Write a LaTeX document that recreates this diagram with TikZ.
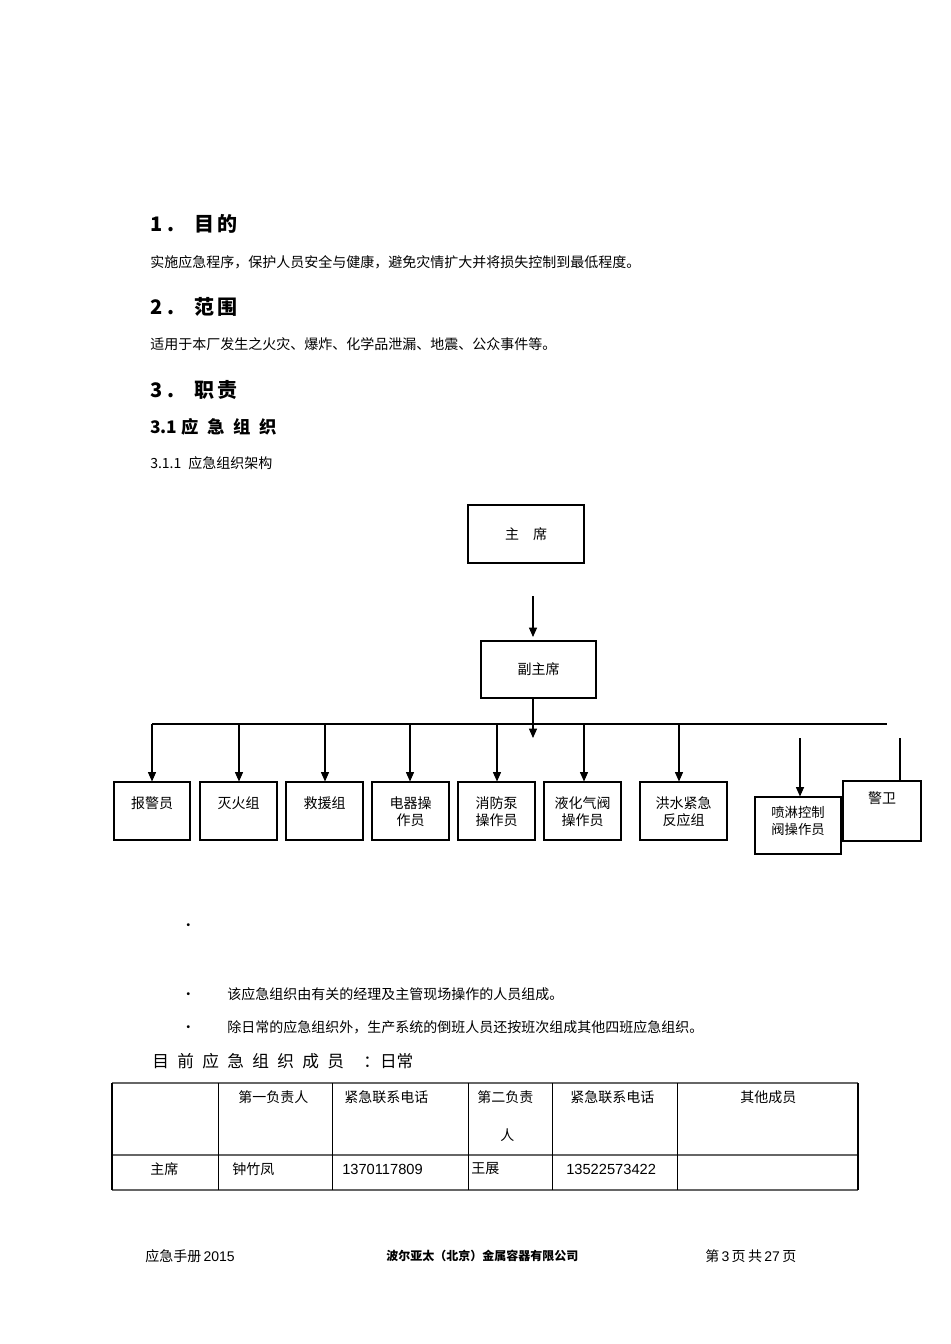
\documentclass[tikz,border=0pt]{standalone}
\usepackage{fontspec}
\setmainfont{Liberation Sans}
\newfontfamily\cjk{Noto Sans CJK SC}
\usetikzlibrary{arrows.meta}
\begin{document}
\begin{tikzpicture}[x=0.75pt,y=-0.75pt,
  box/.style={draw,line width=0.8pt,inner sep=0pt},
  lbl/.style={font=\cjk\fontsize{10.5}{13}\selectfont,align=center},
  txt/.style={anchor=west,inner sep=0pt,font=\cjk\fontsize{10.5}{13}\selectfont},
  hd/.style={anchor=west,inner sep=0pt,font=\cjk\bfseries\fontsize{15}{18}\selectfont},
  arr/.style={-{Triangle[length=7pt,width=6pt]},line width=0.8pt}]
\useasboundingbox (0,0) rectangle (950,1344);
\fill[white] (0,0) rectangle (950,1344);
% headings
\node[hd] (h1) at (150,224) {1 .\quad 目\,的};
\node[txt] (t1) at (150,262) {实施应急程序，保护人员安全与健康，避免灾情扩大并将损失控制到最低程度。};
\node[hd] (h2) at (150,307) {2 .\quad 范\,围};
\node[txt] (t2) at (150,344) {适用于本厂发生之火灾、爆炸、化学品泄漏、地震、公众事件等。};
\node[hd] (h3) at (150,390) {3 .\quad 职\,责};
\node[anchor=west,inner sep=0pt,font=\cjk\bfseries\fontsize{13}{16}\selectfont] (h31) at (150,427) {3.1 应\enspace 急\enspace 组\enspace 织};
\node[txt] (h311) at (150,463) {3.1.1\enspace 应急组织架构};
% chart
\node[box,minimum width=116*0.75pt,minimum height=58*0.75pt,lbl] (zx) at (526,534) {主\quad 席};
\node[box,minimum width=115*0.75pt,minimum height=57*0.75pt,lbl] (fzx) at (538.5,669.5) {副主席};
\coordinate (a0) at (533,596);
\draw[arr] (a0) -- (533,637);
\draw[line width=1.2pt] (152,724) coordinate (L) -- (887,724) coordinate (R);
\coordinate (m) at (533,738);
\draw[arr] (533,698) -- (m);
\foreach \n/\xa/\xb/\t in {b1/114/190/报警员,b2/200/277/灭火组,b3/286/363/救援组,b4/372/449/电器操\\作员,b5/458/535/消防泵\\操作员,b6/544/621/液化气阀\\操作员,b7/640/727/洪水紧急\\反应组}{
  \node[box,minimum width={(\xb-\xa)*0.75pt},minimum height=58*0.75pt] (\n) at ({(\xa+\xb)/2},811) {};
  \node[lbl,anchor=north] at (\n.north) [yshift=-8pt] {\t};
}
\foreach \n/\x in {b1/152,b2/239,b3/325,b4/410,b5/497,b6/584,b7/679}{
  \draw[arr] (\x,724) -- (\n.north -| \x,782);
}
\node[box,minimum width=86*0.75pt,minimum height=57*0.75pt] (b8) at (798,825.5) {};
\node[lbl,anchor=north,font=\cjk\fontsize{10}{12.5}\selectfont] at (b8.north) [yshift=-4pt] {喷淋控制\\阀操作员};
\node[box,minimum width=78*0.75pt,minimum height=60*0.75pt] (b9) at (882,811) {};
\node[lbl,anchor=north] at (b9.north) [yshift=-5pt] {警卫};
\draw[arr] (800,738) -- (b8.north -| 800,797);
\draw[line width=0.8pt] (900,738) -- (b9.north -| 900,781);
% bullets
\node[txt] (bu0) at (181,927) {•};
\node[txt] (bu1) at (181,994) {•\hspace{24pt}该应急组织由有关的经理及主管现场操作的人员组成。};
\node[txt] (bu2) at (181,1027) {•\hspace{24pt}除日常的应急组织外，生产系统的倒班人员还按班次组成其他四班应急组织。};
\node[anchor=west,inner sep=0pt,font=\cjk\fontsize{12.5}{15}\selectfont] (cur) at (152,1061) {目\enspace 前\enspace 应\enspace 急\enspace 组\enspace 织\enspace 成\enspace 员\quad\,：日常};
% table
\draw[line width=1.4pt,gray!80!black] (112,1083) -- (858,1083) (112,1155) -- (858,1155) (112,1190) -- (858,1190);
\draw[line width=0.8pt] (112,1083) -- (112,1190) (858,1083) -- (858,1190);
\foreach \x in {218,332,468,552,677}{\draw[line width=0.6pt] (\x,1083) -- (\x,1190);}
\node[txt,font=\cjk\itshape\fontsize{10.5}{13}\selectfont] (c1) at (238,1097) {第一负责人};
\node[txt] (c2) at (344,1097) {紧急联系电话};
\node[txt] (c3) at (477,1097) {第二负责};
\node[txt] (c3b) at (500,1135) {人};
\node[txt] (c4) at (570,1097) {紧急联系电话};
\node[txt] (c5) at (740,1097) {其他成员};
\node[txt] (r1) at (150,1169) {主席};
\node[txt] (r2) at (232,1169) {钟竹凤};
\node[txt,font=\fontsize{11}{13}\selectfont] (r3) at (342,1169) {1370117809};
\node[txt] (r4) at (471,1169) {王展};
\node[txt,font=\fontsize{11}{13}\selectfont] (r5) at (566,1169) {13522573422};
% footer
\node[txt] (f1) at (145,1256) {应急手册\,{\rmfamily 2015}};
\node[txt,font=\cjk\bfseries\fontsize{9}{11}\selectfont] (f2) at (386,1256) {波尔亚太（北京）金属容器有限公司};
\node[txt] (f3) at (705,1256) {第\,{\rmfamily 3}\,页\,共\,{\rmfamily 27}\,页};
\end{tikzpicture}
\end{document}
